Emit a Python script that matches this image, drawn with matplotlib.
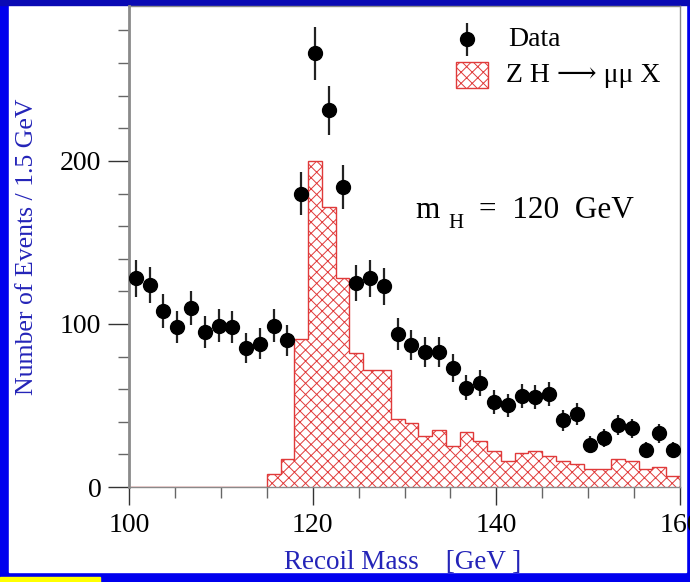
import numpy as np
import matplotlib
matplotlib.use("Agg")
import matplotlib.pyplot as plt
from matplotlib.patches import Rectangle

# recoil mass bins, 1.5 GeV wide
edges = np.arange(100.0, 160.01, 1.5)
centers = edges[:-1] + 0.75

data = [128, 124, 108, 98, 110, 95, 99, 98, 85, 88,
        99, 90, 180, 266, 231, 184, 125, 128, 123, 94,
        87, 83, 83, 73, 61, 64, 52, 50, 56, 55,
        57, 41, 45, 26, 30, 38, 36, 23, 33, 23]
signal = [0, 0, 0, 0, 0, 0, 0, 0, 0, 0,
          8, 17, 91, 200, 172, 128, 82, 72, 72, 42,
          39, 31, 35, 25, 34, 28, 22, 16, 21, 22,
          19, 16, 14, 11, 11, 17, 16, 11, 12, 7]
data_err = np.sqrt(data)

serif = ["Liberation Serif", "DejaVu Serif"]
plt.rcParams["font.family"] = serif
plt.rcParams["hatch.linewidth"] = 0.7
blue = "#2424b8"
red = "#e03a3a"

fig = plt.figure(figsize=(6.9, 5.82), dpi=100, facecolor="#0000ee")
fig.patches.append(Rectangle((0.013, 0.0172), 0.981, 0.9742, transform=fig.transFigure,
                             color="white", zorder=-2))
fig.patches.append(Rectangle((0, 0.9914), 1, 0.0086, transform=fig.transFigure,
                             color="#0a0ab4", zorder=-2))
fig.patches.append(Rectangle((0, 0), 100 / 690, 5 / 582, transform=fig.transFigure,
                             color="#ffff00", zorder=-1))

ax = fig.add_axes([0.187, 0.1632, 0.7985, 0.8265])
ax.set_facecolor("white")

ax.stairs(signal, edges, fill=True, facecolor="none", edgecolor=red,
          hatch="xxx", lw=1.0, zorder=2)
ax.errorbar(centers, data, yerr=data_err, fmt="o", color="black", ms=10,
            ecolor="#222222", elinewidth=1.6, capsize=0, zorder=3)

ax.set_xlim(100, 160)
ax.set_ylim(0, 295)
ax.set_xticks([100, 120, 140, 160])
ax.set_xticks(np.arange(100, 161, 5), minor=True)
ax.set_yticks([0, 100, 200])
ax.set_yticks(np.arange(0, 295, 20), minor=True)
ax.tick_params(axis="both", which="major", labelsize=20, direction="out",
               color="#333333", width=1.0)
ax.tick_params(axis="y", which="major", length=15, pad=5)
ax.tick_params(axis="x", which="major", length=13, pad=6)
ax.tick_params(axis="both", which="minor", direction="out", length=8,
               color="#666666", width=1.0)
for s in ax.spines.values():
    s.set_color("#8a8a8a")
    s.set_linewidth(1.0)
ax.spines["left"].set_linewidth(2.0)

ax.set_ylabel("Number of Events / 1.5 GeV", fontsize=18.5, color=blue)
ax.set_xlabel("Recoil Mass    [GeV ]", fontsize=19.5, color=blue)
ax.yaxis.set_label_coords(-0.165, 0.5)
ax.xaxis.set_label_coords(0.497, -0.13)

# m_H annotation
ax.text(131.2, 165, "m", fontsize=22.5, va="baseline", ha="left")
ax.text(134.8, 159, "H", fontsize=15, va="baseline", ha="left")
ax.text(138.1, 165, "=  120  GeV", fontsize=22.5, va="baseline", ha="left")

# legend drawn by hand
ax.errorbar([136.8], [274.5], yerr=[10], fmt="o", color="black", ms=10,
            ecolor="#222222", elinewidth=1.6, capsize=0, clip_on=False)
ax.text(141.3, 274.5, "Data", fontsize=20, va="center", ha="left")
ax.add_patch(Rectangle((135.6, 245), 3.5, 15.5, facecolor="none", edgecolor=red,
                       hatch="xxx", lw=1.0))
ax.text(141.1, 252.5, "Z H \u27f6 \u03bc\u03bc X", fontsize=20, va="center", ha="left")

fig.savefig("out.png", dpi=100, facecolor=fig.get_facecolor())
